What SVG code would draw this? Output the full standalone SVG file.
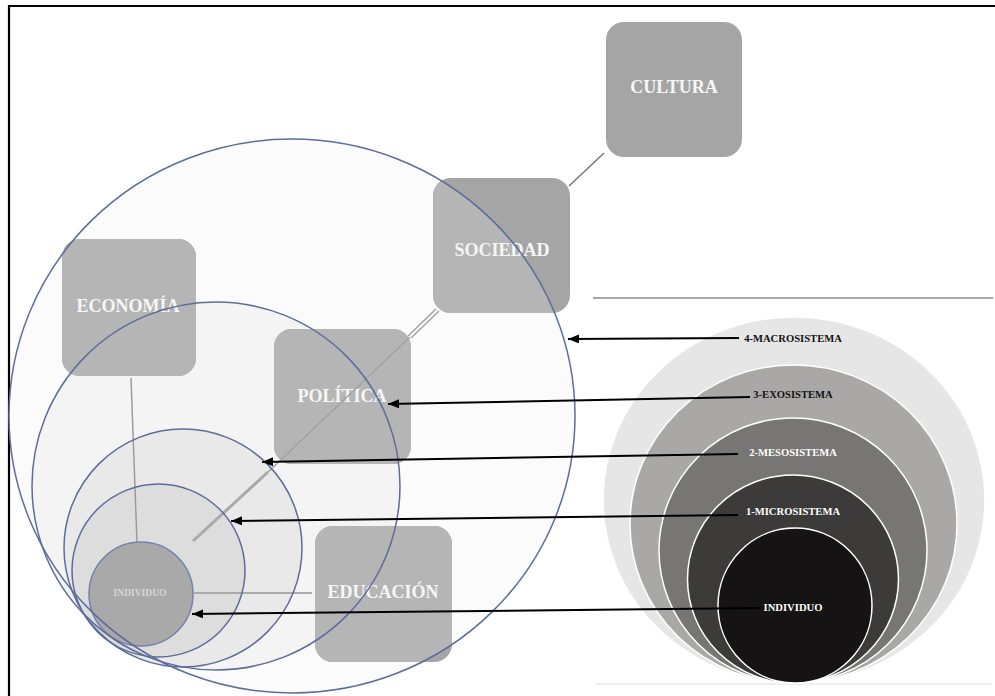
<svg xmlns="http://www.w3.org/2000/svg" width="995" height="696" viewBox="0 0 995 696">
  <style>
    .box{fill:#a5a5a5}
    .boxin{fill:#b5b5b5}
    .lbl{font-family:"Liberation Serif","Times New Roman",serif;font-weight:bold;font-size:18px;fill:#f6f6f6;text-anchor:middle}
    .rl{font-family:"Liberation Serif","Times New Roman",serif;font-weight:bold;font-size:10.6px;text-anchor:middle}
    .ring{fill:none;stroke:#5d6c9a;stroke-width:1.5}
    .arr{stroke:#000;stroke-width:2;fill:none;marker-end:url(#ah)}
    .rs{stroke:#fff;stroke-width:1.5}
  </style>
  <defs>
    <marker id="ah" markerUnits="userSpaceOnUse" markerWidth="12" markerHeight="10" refX="11" refY="4.5" orient="auto">
      <path d="M0,0 L11,4.5 L0,9 z" fill="#000"/>
    </marker>
    <clipPath id="inOuter"><ellipse cx="292" cy="416" rx="283" ry="277"/></clipPath>
  </defs>
  <rect width="995" height="696" fill="#fff"/>
  <!-- frame -->
  <line x1="8" y1="6" x2="995" y2="6" stroke="#000" stroke-width="2.2"/>
  <line x1="9" y1="5" x2="9" y2="696" stroke="#000" stroke-width="2.2"/>

  <!-- left circle fills -->
  <g id="left-fills">
    <ellipse cx="292" cy="416" rx="283" ry="277" fill="#fbfbfb"/>
    <circle cx="216" cy="486" r="184" fill="#f4f4f4"/>
    <circle cx="183" cy="548" r="119" fill="#e9e9e9"/>
    <circle cx="158.5" cy="570.5" r="86.5" fill="#dddddd"/>
  </g>

  <!-- nodes -->
  <g id="cultura">
    <rect class="box" x="606" y="22" width="136" height="135" rx="18"/>
    <text class="lbl" x="674" y="93">CULTURA</text>
  </g>
  <g id="sociedad">
    <rect class="box" x="433" y="178" width="137" height="135" rx="18"/>
    <rect class="boxin" x="433" y="178" width="137" height="135" rx="18" clip-path="url(#inOuter)"/>
    <text class="lbl" x="502" y="256">SOCIEDAD</text>
  </g>
  <g id="economia">
    <rect class="box" x="62" y="239" width="134" height="137" rx="18"/>
    <rect class="boxin" x="62" y="239" width="134" height="137" rx="18" clip-path="url(#inOuter)"/>
    <text class="lbl" x="128" y="312">ECONOMÍA</text>
  </g>
  <g id="politica">
    <rect class="box" x="274" y="329" width="137" height="135" rx="18"/>
    <rect class="boxin" x="274" y="329" width="137" height="135" rx="18" clip-path="url(#inOuter)"/>
    <text class="lbl" x="342" y="402">POLÍTICA</text>
  </g>
  <g id="educacion">
    <rect class="box" x="315" y="526" width="137" height="136" rx="18"/>
    <rect class="boxin" x="315" y="526" width="137" height="136" rx="18" clip-path="url(#inOuter)"/>
    <text class="lbl" x="383" y="598">EDUCACIÓN</text>
  </g>

  <!-- connectors between nodes -->
  <g id="connectors">
    <line x1="604" y1="153" x2="569" y2="186" stroke="#7a7a7a" stroke-width="1.6"/>
    <line x1="436" y1="309" x2="408" y2="336" stroke="#9a9a9a" stroke-width="1.2"/>
    <line x1="439" y1="311" x2="411" y2="338" stroke="#9a9a9a" stroke-width="1.2"/>
    <line x1="410" y1="337" x2="268" y2="472" stroke="#a2a2a2" stroke-width="1.5"/>
    <line x1="268" y1="472" x2="193" y2="541" stroke="#a9a9a9" stroke-width="3"/>
    <line x1="131" y1="378" x2="137" y2="543" stroke="#9c9c9c" stroke-width="1.5"/>
    <line x1="194" y1="593" x2="312" y2="593" stroke="#aaaaaa" stroke-width="2"/>
  </g>

  <!-- individuo (left) -->
  <g id="individuo-left">
    <circle cx="141" cy="594" r="52" fill="#a9a9a9" stroke="#7483ab" stroke-width="1.5"/>
    <text x="140" y="595.5" font-family="Liberation Serif, serif" font-weight="bold" font-size="9.5" fill="#d6d6d6" text-anchor="middle">INDIVIDUO</text>
  </g>

  <!-- left ring strokes -->
  <g id="left-rings">
    <ellipse class="ring" cx="292" cy="416" rx="283" ry="277"/>
    <circle class="ring" cx="216" cy="486" r="184"/>
    <circle class="ring" cx="183" cy="548" r="119"/>
    <circle class="ring" cx="158.5" cy="570.5" r="86.5"/>
  </g>

  <!-- separators -->
  <line x1="593" y1="298" x2="993" y2="298" stroke="#8a8a8a" stroke-width="1.5"/>
  <line x1="595" y1="684" x2="992" y2="684" stroke="#dcdcdc" stroke-width="1.2"/>

  <!-- right concentric model -->
  <g id="right-model">
    <ellipse class="rs" cx="794" cy="500" rx="191" ry="183" fill="#e6e6e6"/>
    <ellipse class="rs" cx="793.5" cy="524" rx="163.5" ry="159" fill="#aaa7a7"/>
    <ellipse class="rs" cx="793" cy="550.5" rx="134" ry="132.5" fill="#787575"/>
    <ellipse class="rs" cx="793" cy="579" rx="105.5" ry="104" fill="#3d3a3a"/>
    <ellipse class="rs" cx="795" cy="605.5" rx="77" ry="77.5" fill="#151313"/>
  </g>

  <!-- arrows -->
  <g id="arrows">
    <line class="arr" x1="739" y1="338" x2="568" y2="339"/>
    <line class="arr" x1="750" y1="397" x2="388" y2="404"/>
    <line class="arr" x1="738" y1="454" x2="262" y2="462"/>
    <line class="arr" x1="738" y1="515" x2="231" y2="521"/>
    <line class="arr" x1="759" y1="608" x2="192" y2="614"/>
  </g>

  <!-- right labels -->
  <g id="right-labels">
    <text class="rl" x="793" y="342" fill="#111">4-MACROSISTEMA</text>
    <text class="rl" x="793" y="398" fill="#111">3-EXOSISTEMA</text>
    <text class="rl" x="793" y="456" fill="#fff">2-MESOSISTEMA</text>
    <text class="rl" x="793" y="515" fill="#fff">1-MICROSISTEMA</text>
    <text class="rl" x="793" y="611" fill="#fff">INDIVIDUO</text>
  </g>
</svg>
